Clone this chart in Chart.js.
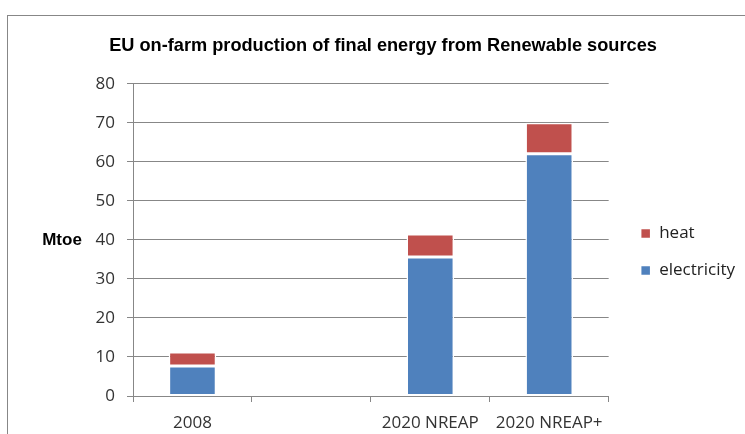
<!DOCTYPE html>
<html>
<head>
<meta charset="utf-8">
<script src="https://cdn.jsdelivr.net/npm/chart.js@4.4.1/dist/chart.umd.min.js"></script>
<style>
  html, body { margin: 0; padding: 0; background: #fff; overflow: hidden; }
  #wrap { position: relative; width: 745px; height: 434px; }
  #frame { position: absolute; left: 7px; top: 15px; width: 800px; height: 500px; border: 1px solid #878787; box-sizing: border-box; }
  canvas { position: absolute; left: 0; top: 0; }
</style>
</head>
<body>
<div id="wrap">
  <div id="frame"></div>
  <canvas id="chart" width="745" height="434"></canvas>
</div>
<script>
const categories = ["2008", "", "2020 NREAP", "2020 NREAP+"];
const electricity = [7.7, null, 35.6, 62.1];
const heat = [3.6, null, 5.9, 7.9];
const yTicks = [0, 10, 20, 30, 40, 50, 60, 70, 80];

const TITLE_FONT = "'Liberation Sans', Arial, sans-serif";
const FONT = "'Open Sans', 'Liberation Sans', sans-serif";
const PAD_LEFT = 33;
const PAD_RIGHT = 12;

// horizontal "Mtoe" axis title, left of the y ticks
const mtoeLabel = {
  id: "mtoeLabel",
  afterDraw(chart) {
    const ctx = chart.ctx;
    ctx.save();
    ctx.font = "bold 17px " + TITLE_FONT;
    ctx.fillStyle = "#000";
    ctx.textAlign = "center";
    ctx.textBaseline = "middle";
    ctx.fillText("Mtoe", 62, 240);
    ctx.restore();
  }
};

// nudge the legend block down/right, next to the plot like the original
const legendShift = {
  id: "legendShift",
  afterLayout(chart) {
    const lg = chart.legend;
    lg.left += 12; lg.right += 12;
    lg.top += 35; lg.bottom += 35;
  }
};

new Chart(document.getElementById("chart").getContext("2d"), {
  type: "bar",
  data: {
    labels: categories,
    datasets: [
      {
        label: "electricity",
        data: electricity,
        backgroundColor: "#4F81BD",
        borderColor: "#ffffff",
        borderWidth: 1.5,
        borderSkipped: false,
        categoryPercentage: 0.8,
        barPercentage: 0.5
      },
      {
        label: "heat",
        data: heat,
        backgroundColor: "#C0504D",
        borderColor: "#ffffff",
        borderWidth: 1.5,
        borderSkipped: false,
        categoryPercentage: 0.8,
        barPercentage: 0.5
      }
    ]
  },
  options: {
    responsive: false,
    animation: false,
    layout: { padding: { left: PAD_LEFT, right: PAD_RIGHT, top: 0, bottom: 0 } },
    scales: {
      x: {
        stacked: true,
        grid: { display: true, drawOnChartArea: false, drawTicks: true, tickLength: 6, color: "#878787", offset: true },
        border: { display: true, color: "#878787" },
        ticks: { color: "#333", font: { family: FONT, size: 17 }, padding: 11 },
        afterFit(scale) { scale.height = 38; }
      },
      y: {
        stacked: true,
        min: 0,
        max: 80,
        afterBuildTicks(scale) { scale.ticks = yTicks.map(v => ({ value: v })); },
        grid: { color: "#878787", tickLength: 6 },
        border: { display: true, color: "#878787" },
        ticks: { color: "#333", font: { family: FONT, size: 17 }, padding: 12 },
        afterFit(scale) { scale.width = 133 - PAD_LEFT; }
      }
    },
    plugins: {
      title: {
        display: true,
        text: "EU on-farm production of final energy from Renewable sources",
        color: "#000",
        font: { family: TITLE_FONT, size: 18.2, weight: "bold" },
        padding: { top: 35, bottom: 27 }
      },
      legend: {
        position: "right",
        reverse: true,
        labels: {
          boxWidth: 10,
          boxHeight: 10,
          color: "#222",
          font: { family: FONT, size: 17 },
          padding: 20
        }
      },
      tooltip: { enabled: false }
    }
  },
  plugins: [mtoeLabel, legendShift]
});
</script>
</body>
</html>
